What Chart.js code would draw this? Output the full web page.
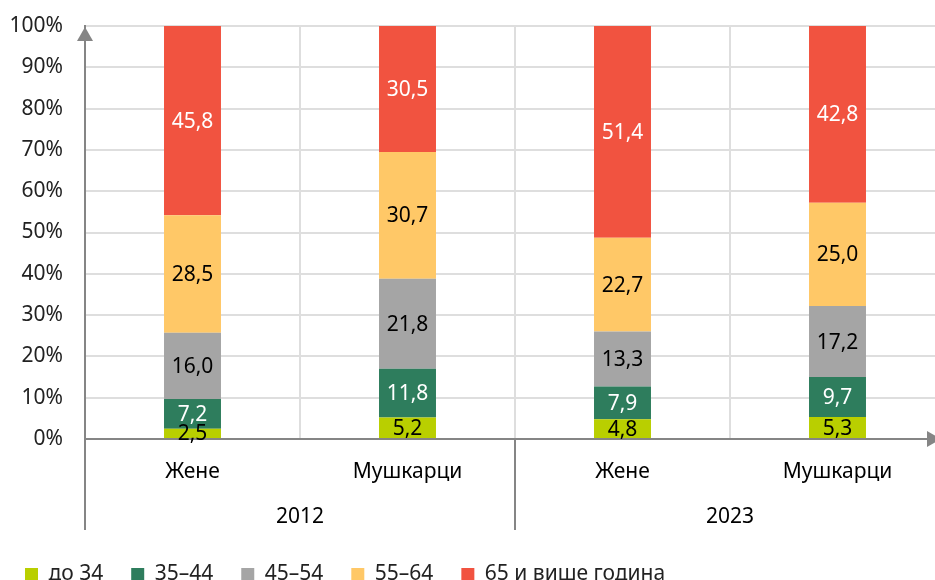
<!DOCTYPE html>
<html>
<head>
<meta charset="utf-8">
<script src="https://cdn.jsdelivr.net/npm/chart.js@4/dist/chart.umd.min.js"></script>
<style>
  html, body { margin: 0; padding: 0; overflow: hidden; background: #fff; }
  #wrap { width: 960px; height: 600px; }
</style>
</head>
<body>
<div id="wrap"><canvas id="chart" width="960" height="600"></canvas></div>
<script>
// --- DONNÉES ---
const categories = ['Жене', 'Мушкарци', 'Жене', 'Мушкарци'];
const groups = ['2012', '2023'];
const seriesNames = ['до 34', '35–44', '45–54', '55–64', '65 и више година'];
const ageTo34 = [2.5, 5.2, 4.8, 5.3];
const age35to44 = [7.2, 11.8, 7.9, 9.7];
const age45to54 = [16.0, 21.8, 13.3, 17.2];
const age55to64 = [28.5, 30.7, 22.7, 25.0];
const age65plus = [45.8, 30.5, 51.4, 42.8];
const yTicks = [0, 10, 20, 30, 40, 50, 60, 70, 80, 90, 100];

const colors = ['#b9cf00', '#2e7d5d', '#a5a5a5', '#ffc867', '#f15340'];
const labelColors = ['#000', '#fff', '#000', '#000', '#fff'];
const FONT = '"Noto Sans", sans-serif';
const AXIS = '#858585';

const seriesValues = [ageTo34, age35to44, age45to54, age55to64, age65plus];

// étiquettes de valeurs au centre des segments
const valueLabels = {
    id: 'valueLabels',
    afterDatasetsDraw(chart) {
        const ctx = chart.ctx;
        ctx.save();
        ctx.font = '21px ' + FONT;
        ctx.textAlign = 'center';
        ctx.textBaseline = 'middle';
        chart.data.datasets.forEach((ds, i) => {
            chart.getDatasetMeta(i).data.forEach((bar, j) => {
                const yMid = (bar.y + bar.base) / 2;
                ctx.fillStyle = labelColors[i];
                ctx.fillText(ds.data[j].toFixed(1).replace('.', ','), bar.x, yMid + 1);
            });
        });
        ctx.restore();
    }
};

// axes avec flèches + niveau "année"
const axisDecor = {
    id: 'axisDecor',
    afterDraw(chart) {
        const ctx = chart.ctx;
        const { left, top, bottom } = chart.chartArea;
        const x = chart.scales.x;
        ctx.save();
        ctx.strokeStyle = AXIS;
        ctx.fillStyle = AXIS;
        ctx.lineWidth = 2;

        // prolongement de l'axe Y et séparateur de groupes
        const sepX = (x.getPixelForValue(1) + x.getPixelForValue(2)) / 2;
        ctx.beginPath();
        ctx.moveTo(left, bottom);
        ctx.lineTo(left, 530);
        ctx.moveTo(sepX, bottom);
        ctx.lineTo(sepX, 530);
        ctx.stroke();

        // flèche haut
        ctx.beginPath();
        ctx.moveTo(left, top + 1);
        ctx.lineTo(left - 8, top + 15);
        ctx.lineTo(left + 8, top + 15);
        ctx.closePath();
        ctx.fill();

        // flèche droite
        const ax = 941;
        ctx.beginPath();
        ctx.moveTo(ax, bottom);
        ctx.lineTo(ax - 14, bottom - 8);
        ctx.lineTo(ax - 14, bottom + 8);
        ctx.closePath();
        ctx.fill();

        // libellés des années
        ctx.fillStyle = '#000';
        ctx.font = '21px ' + FONT;
        ctx.textAlign = 'center';
        ctx.textBaseline = 'middle';
        groups.forEach((g, k) => {
            const cx = (x.getPixelForValue(k * 2) + x.getPixelForValue(k * 2 + 1)) / 2;
            ctx.fillText(g, cx, 517);
        });
        ctx.restore();
    }
};

new Chart(document.getElementById('chart').getContext('2d'), {
    type: 'bar',
    data: {
        labels: categories,
        datasets: seriesValues.map((vals, i) => ({
            label: seriesNames[i],
            data: vals,
            backgroundColor: colors[i],
            borderWidth: 0,
            barPercentage: 0.265,
            categoryPercentage: 1
        }))
    },
    options: {
        responsive: false,
        animation: false,
        layout: { padding: { top: 26, left: -3, right: 15, bottom: 5 } },
        plugins: {
            legend: {
                position: 'bottom',
                align: 'start',
                labels: {
                    boxWidth: 13,
                    boxHeight: 13,
                    padding: 28,
                    color: '#222',
                    font: { family: FONT, size: 21 }
                }
            },
            tooltip: { enabled: false }
        },
        scales: {
            x: {
                stacked: true,
                afterFit(s) { s.height = 97; },
                grid: { color: '#dedede', lineWidth: 2, drawTicks: false, offset: true },
                border: { color: AXIS, width: 2 },
                ticks: { color: '#000', padding: 20, font: { family: FONT, size: 21 } }
            },
            y: {
                stacked: true,
                min: 0,
                max: 100,
                afterFit(s) { s.width = 88; s.paddingTop = 0; s.paddingBottom = 0; },
                afterBuildTicks(s) { s.ticks = yTicks.map(v => ({ value: v })); },
                grid: { color: '#dedede', lineWidth: 2, drawTicks: false },
                border: { color: AXIS, width: 2 },
                ticks: {
                    color: '#222',
                    padding: 22,
                    font: { family: FONT, size: 21 },
                    callback: v => v + '%'
                }
            }
        }
    },
    plugins: [valueLabels, axisDecor]
});
</script>
</body>
</html>
